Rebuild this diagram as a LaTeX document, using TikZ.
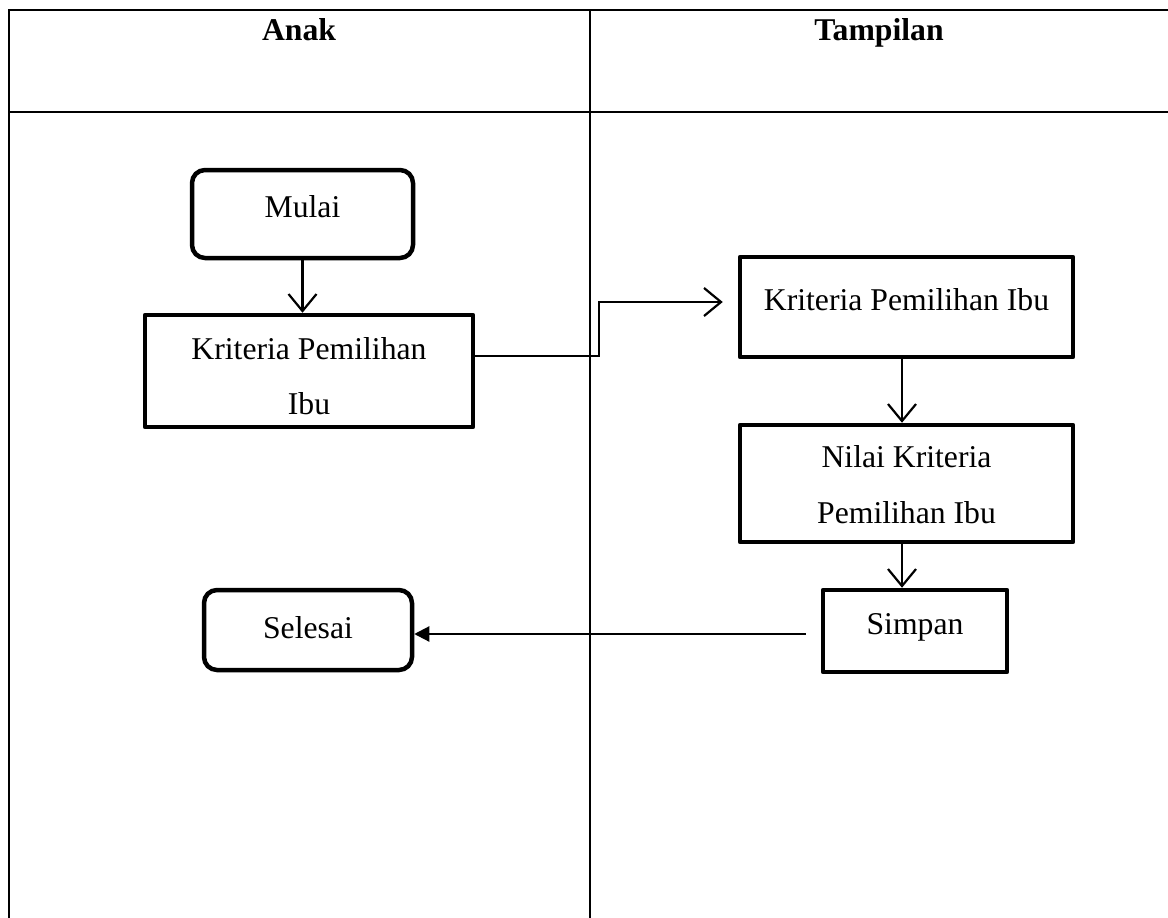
\documentclass[tikz,border=0pt]{standalone}
\usepackage{fontspec}
\setmainfont{Liberation Serif}
\usetikzlibrary{arrows.meta}
\tikzset{
  grid/.style={line width=2.2pt, line cap=rect},
  boxrect/.style={draw, line width=4.5pt, inner sep=0pt, line join=round},
  boxround/.style={draw, line width=4.5pt, inner sep=0pt, rounded corners=13pt},
  txt/.style={inner sep=0pt, anchor=base, font=\fontsize{31.7}{38}\selectfont},
  head/.style={inner sep=0pt, anchor=base, font=\fontsize{31.7}{38}\selectfont\bfseries},
  openarr/.style={line width=2.2pt, -{Straight Barb[length=17pt,width=28pt,line width=2.2pt]}},
  fillarr/.style={line width=2.2pt, -{Triangle[length=15pt,width=15pt]}},
}
\begin{document}
\begin{tikzpicture}[x=1pt,y=-1pt]
\useasboundingbox (0,0) rectangle (1168,918);
% table
\draw[grid] (9,918) -- (9,10) -- (1170,10);
\draw[grid] (9,112) -- (1170,112);
\draw[grid] (590,10) -- (590,918);
\node[head] (hA) at (299,40) {Anak};
\node[head] (hT) at (879,40) {Tampilan};
% nodes
\node[boxround, minimum width=221pt, minimum height=88pt] (mulai) at (302.5,214) {};
\node[txt] (tmulai) at (302.5,217) {Mulai};
\node[boxrect, minimum width=328pt, minimum height=112pt] (k1) at (309,371) {};
\node[txt] (tk1a) at (309,359) {Kriteria Pemilihan};
\node[txt] (tk1b) at (309,414) {Ibu};
\node[boxrect, minimum width=333pt, minimum height=100pt] (k2) at (906.5,307) {};
\node[txt] (tk2) at (906.5,310) {Kriteria Pemilihan Ibu};
\node[boxrect, minimum width=333pt, minimum height=117pt] (nilai) at (906.5,483.5) {};
\node[txt] (tn1) at (906.5,467) {Nilai Kriteria};
\node[txt] (tn2) at (906.5,523) {Pemilihan Ibu};
\node[boxrect, minimum width=184pt, minimum height=82pt] (simpan) at (915,631) {};
\node[txt] (ts) at (915,634) {Simpan};
\node[boxround, minimum width=208pt, minimum height=80pt] (selesai) at (308,630) {};
\node[txt] (tsel) at (308,638) {Selesai};
% connectors
\draw[openarr] (mulai.south) -- (mulai.south |- k1.north);
\draw[openarr] (k1.east |- 0,356) -- (599,356) -- (599,302) -- ([xshift=-15pt]k2.west |- 0,302);
\draw[openarr] (k2.south -| 902,0) -- (nilai.north -| 902,0);
\draw[openarr] (nilai.south -| 902,0) -- (simpan.north -| 902,0);
\draw[fillarr] ([xshift=-15pt]simpan.west |- 0,634) -- (selesai.east |- 0,634);
\end{tikzpicture}
\end{document}
